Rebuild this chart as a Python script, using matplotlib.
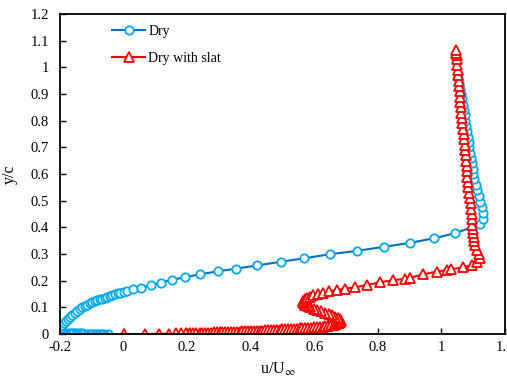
import numpy as np
import matplotlib
matplotlib.use('Agg')
import matplotlib.pyplot as plt

plt.rcParams['font.family'] = ['Liberation Serif', 'DejaVu Serif']
plt.rcParams['mathtext.fontset'] = 'stix'

# Perfil "Dry": u/U_inf frente a y/c
dry_u = [-0.049, -0.060, -0.068, -0.075, -0.082, -0.089, -0.096, -0.103, -0.110, -0.117,
         -0.124, -0.131, -0.138, -0.145, -0.152, -0.159, -0.166, -0.173, -0.180, -0.186,
         -0.192, -0.196, -0.199, -0.200, -0.199, -0.197, -0.193, -0.188, -0.182, -0.176,
         -0.169, -0.162, -0.154, -0.146, -0.138, -0.130, -0.122, -0.114, -0.106, -0.098,
         -0.091, -0.083, -0.075, -0.067, -0.059, -0.051, -0.043, -0.035, -0.028, -0.019,
         -0.010, 0.000, 0.011, 0.030, 0.056, 0.085, 0.117, 0.153, 0.193, 0.240,
         0.296, 0.353, 0.420, 0.494, 0.569, 0.649, 0.734, 0.820, 0.902, 0.977,
         1.043, 1.122, 1.130, 1.132, 1.127, 1.122, 1.117, 1.112, 1.108, 1.104,
         1.100, 1.098, 1.095, 1.092, 1.090, 1.088, 1.086, 1.083, 1.081, 1.078,
         1.075, 1.073, 1.070, 1.068, 1.065, 1.062, 1.059, 1.056, 1.053, 1.051]
dry_y = [0.000, 0.000, 0.000, 0.000, 0.001, 0.001, 0.001, 0.001, 0.001, 0.001,
         0.001, 0.002, 0.002, 0.002, 0.002, 0.002, 0.002, 0.003, 0.003, 0.003,
         0.004, 0.005, 0.008, 0.012, 0.018, 0.025, 0.034, 0.042, 0.050, 0.058,
         0.065, 0.073, 0.080, 0.087, 0.094, 0.100, 0.105, 0.110, 0.115, 0.119,
         0.123, 0.127, 0.130, 0.133, 0.136, 0.139, 0.142, 0.146, 0.149, 0.152,
         0.155, 0.158, 0.161, 0.168, 0.174, 0.182, 0.193, 0.203, 0.213, 0.224,
         0.235, 0.245, 0.257, 0.271, 0.284, 0.299, 0.312, 0.327, 0.342, 0.359,
         0.378, 0.411, 0.431, 0.452, 0.475, 0.496, 0.517, 0.540, 0.560, 0.580,
         0.600, 0.620, 0.640, 0.660, 0.680, 0.700, 0.720, 0.740, 0.760, 0.780,
         0.800, 0.820, 0.840, 0.860, 0.880, 0.900, 0.920, 0.940, 0.960, 0.975]

# Perfil "Dry with slat"
slat_u = [0.000, 0.067, 0.112, 0.143, 0.166, 0.182, 0.196, 0.208, 0.219, 0.229,
          0.239, 0.248, 0.257, 0.266, 0.275, 0.284, 0.293, 0.302, 0.311, 0.320,
          0.329, 0.338, 0.347, 0.356, 0.365, 0.374, 0.383, 0.392, 0.401, 0.410,
          0.419, 0.428, 0.437, 0.446, 0.455, 0.464, 0.473, 0.482, 0.491, 0.500,
          0.509, 0.518, 0.527, 0.536, 0.545, 0.554, 0.563, 0.572, 0.581, 0.590,
          0.599, 0.608, 0.617, 0.626, 0.635, 0.644, 0.653, 0.661, 0.668, 0.674,
          0.679, 0.682, 0.684, 0.680, 0.674, 0.666, 0.656, 0.645, 0.633, 0.621,
          0.609, 0.598, 0.588, 0.579, 0.572, 0.567, 0.565, 0.566, 0.570, 0.577,
          0.586, 0.597, 0.611, 0.628, 0.647, 0.670, 0.697, 0.728, 0.765, 0.807,
          0.849, 0.886, 0.900, 0.943, 0.985, 1.017, 1.030, 1.069, 1.096, 1.111,
          1.122, 1.117, 1.111, 1.106, 1.103, 1.101, 1.099, 1.098, 1.097, 1.096,
          1.095, 1.094, 1.092, 1.090, 1.088, 1.085, 1.083, 1.082, 1.081, 1.080,
          1.078, 1.077, 1.075, 1.074, 1.072, 1.070, 1.068, 1.066, 1.065, 1.063,
          1.061, 1.060, 1.058, 1.057, 1.056, 1.054, 1.053, 1.052, 1.050, 1.049,
          1.048, 1.047, 1.046]
slat_y = [0.000, 0.000, 0.001, 0.001, 0.002, 0.002, 0.003, 0.003, 0.003, 0.004,
          0.004, 0.004, 0.005, 0.005, 0.005, 0.006, 0.006, 0.006, 0.007, 0.007,
          0.008, 0.008, 0.008, 0.009, 0.009, 0.010, 0.010, 0.011, 0.011, 0.012,
          0.012, 0.013, 0.013, 0.014, 0.014, 0.015, 0.015, 0.016, 0.016, 0.017,
          0.018, 0.018, 0.019, 0.019, 0.020, 0.021, 0.021, 0.022, 0.023, 0.024,
          0.025, 0.026, 0.027, 0.028, 0.029, 0.031, 0.033, 0.035, 0.037, 0.040,
          0.043, 0.046, 0.050, 0.055, 0.060, 0.065, 0.070, 0.075, 0.080, 0.085,
          0.090, 0.095, 0.100, 0.105, 0.110, 0.115, 0.120, 0.125, 0.130, 0.135,
          0.140, 0.145, 0.150, 0.155, 0.160, 0.165, 0.170, 0.175, 0.184, 0.194,
          0.202, 0.207, 0.210, 0.224, 0.234, 0.240, 0.243, 0.250, 0.259, 0.271,
          0.284, 0.300, 0.315, 0.334, 0.350, 0.365, 0.380, 0.395, 0.410, 0.430,
          0.450, 0.470, 0.490, 0.510, 0.530, 0.550, 0.570, 0.590, 0.610, 0.630,
          0.650, 0.670, 0.690, 0.710, 0.730, 0.750, 0.770, 0.790, 0.810, 0.830,
          0.850, 0.870, 0.890, 0.910, 0.930, 0.950, 0.970, 0.990, 1.010, 1.030,
          1.045, 1.055, 1.065]

x_ticks = [-0.2, 0, 0.2, 0.4, 0.6, 0.8, 1, 1.2]
y_ticks = [0, 0.1, 0.2, 0.3, 0.4, 0.5, 0.6, 0.7, 0.8, 0.9, 1, 1.1, 1.2]

fig = plt.figure(figsize=(5.07, 3.83), dpi=100)
ax = fig.add_axes([0.1183, 0.1279, 0.8777, 0.8355])

ax.plot(dry_u, dry_y, '-o', color='#0070C0', lw=1.5, ms=6,
        mfc='white', mec='#00A8F0', mew=1.3, label='Dry')
ax.plot(slat_u, slat_y, '-^', color='#FF0000', lw=1.5, ms=6.5,
        mfc='white', mec='#FF0000', mew=1.3, label='Dry with slat')

ax.set_xlim(-0.2, 1.2)
ax.set_ylim(0, 1.2)
ax.set_xticks(x_ticks)
ax.set_yticks(y_ticks)
ax.set_xticklabels([f'{t:g}' for t in x_ticks])
ax.set_yticklabels([f'{t:g}' for t in y_ticks])
ax.tick_params(direction='in', length=4, width=1, labelsize=10.5)
ax.tick_params(axis='x', pad=5)
ax.tick_params(axis='y', pad=8)
for s in ax.spines.values():
    s.set_linewidth(1.3)

ax.set_xlabel('u/U$_{\\infty}$', fontsize=11.5)
ax.xaxis.set_label_coords(0.49, -0.085)
ax.set_ylabel('y/c', fontsize=11.5)
ax.yaxis.set_label_coords(-0.095, 0.5)

ax.legend(loc='upper left', bbox_to_anchor=(112 / 507, 1 - 25 / 383),
          bbox_transform=fig.transFigure, frameon=False, fontsize=10,
          handlelength=2.4, handletextpad=0.2, labelspacing=1.0,
          borderpad=0, borderaxespad=0)

fig.savefig('out.png', dpi=100)
